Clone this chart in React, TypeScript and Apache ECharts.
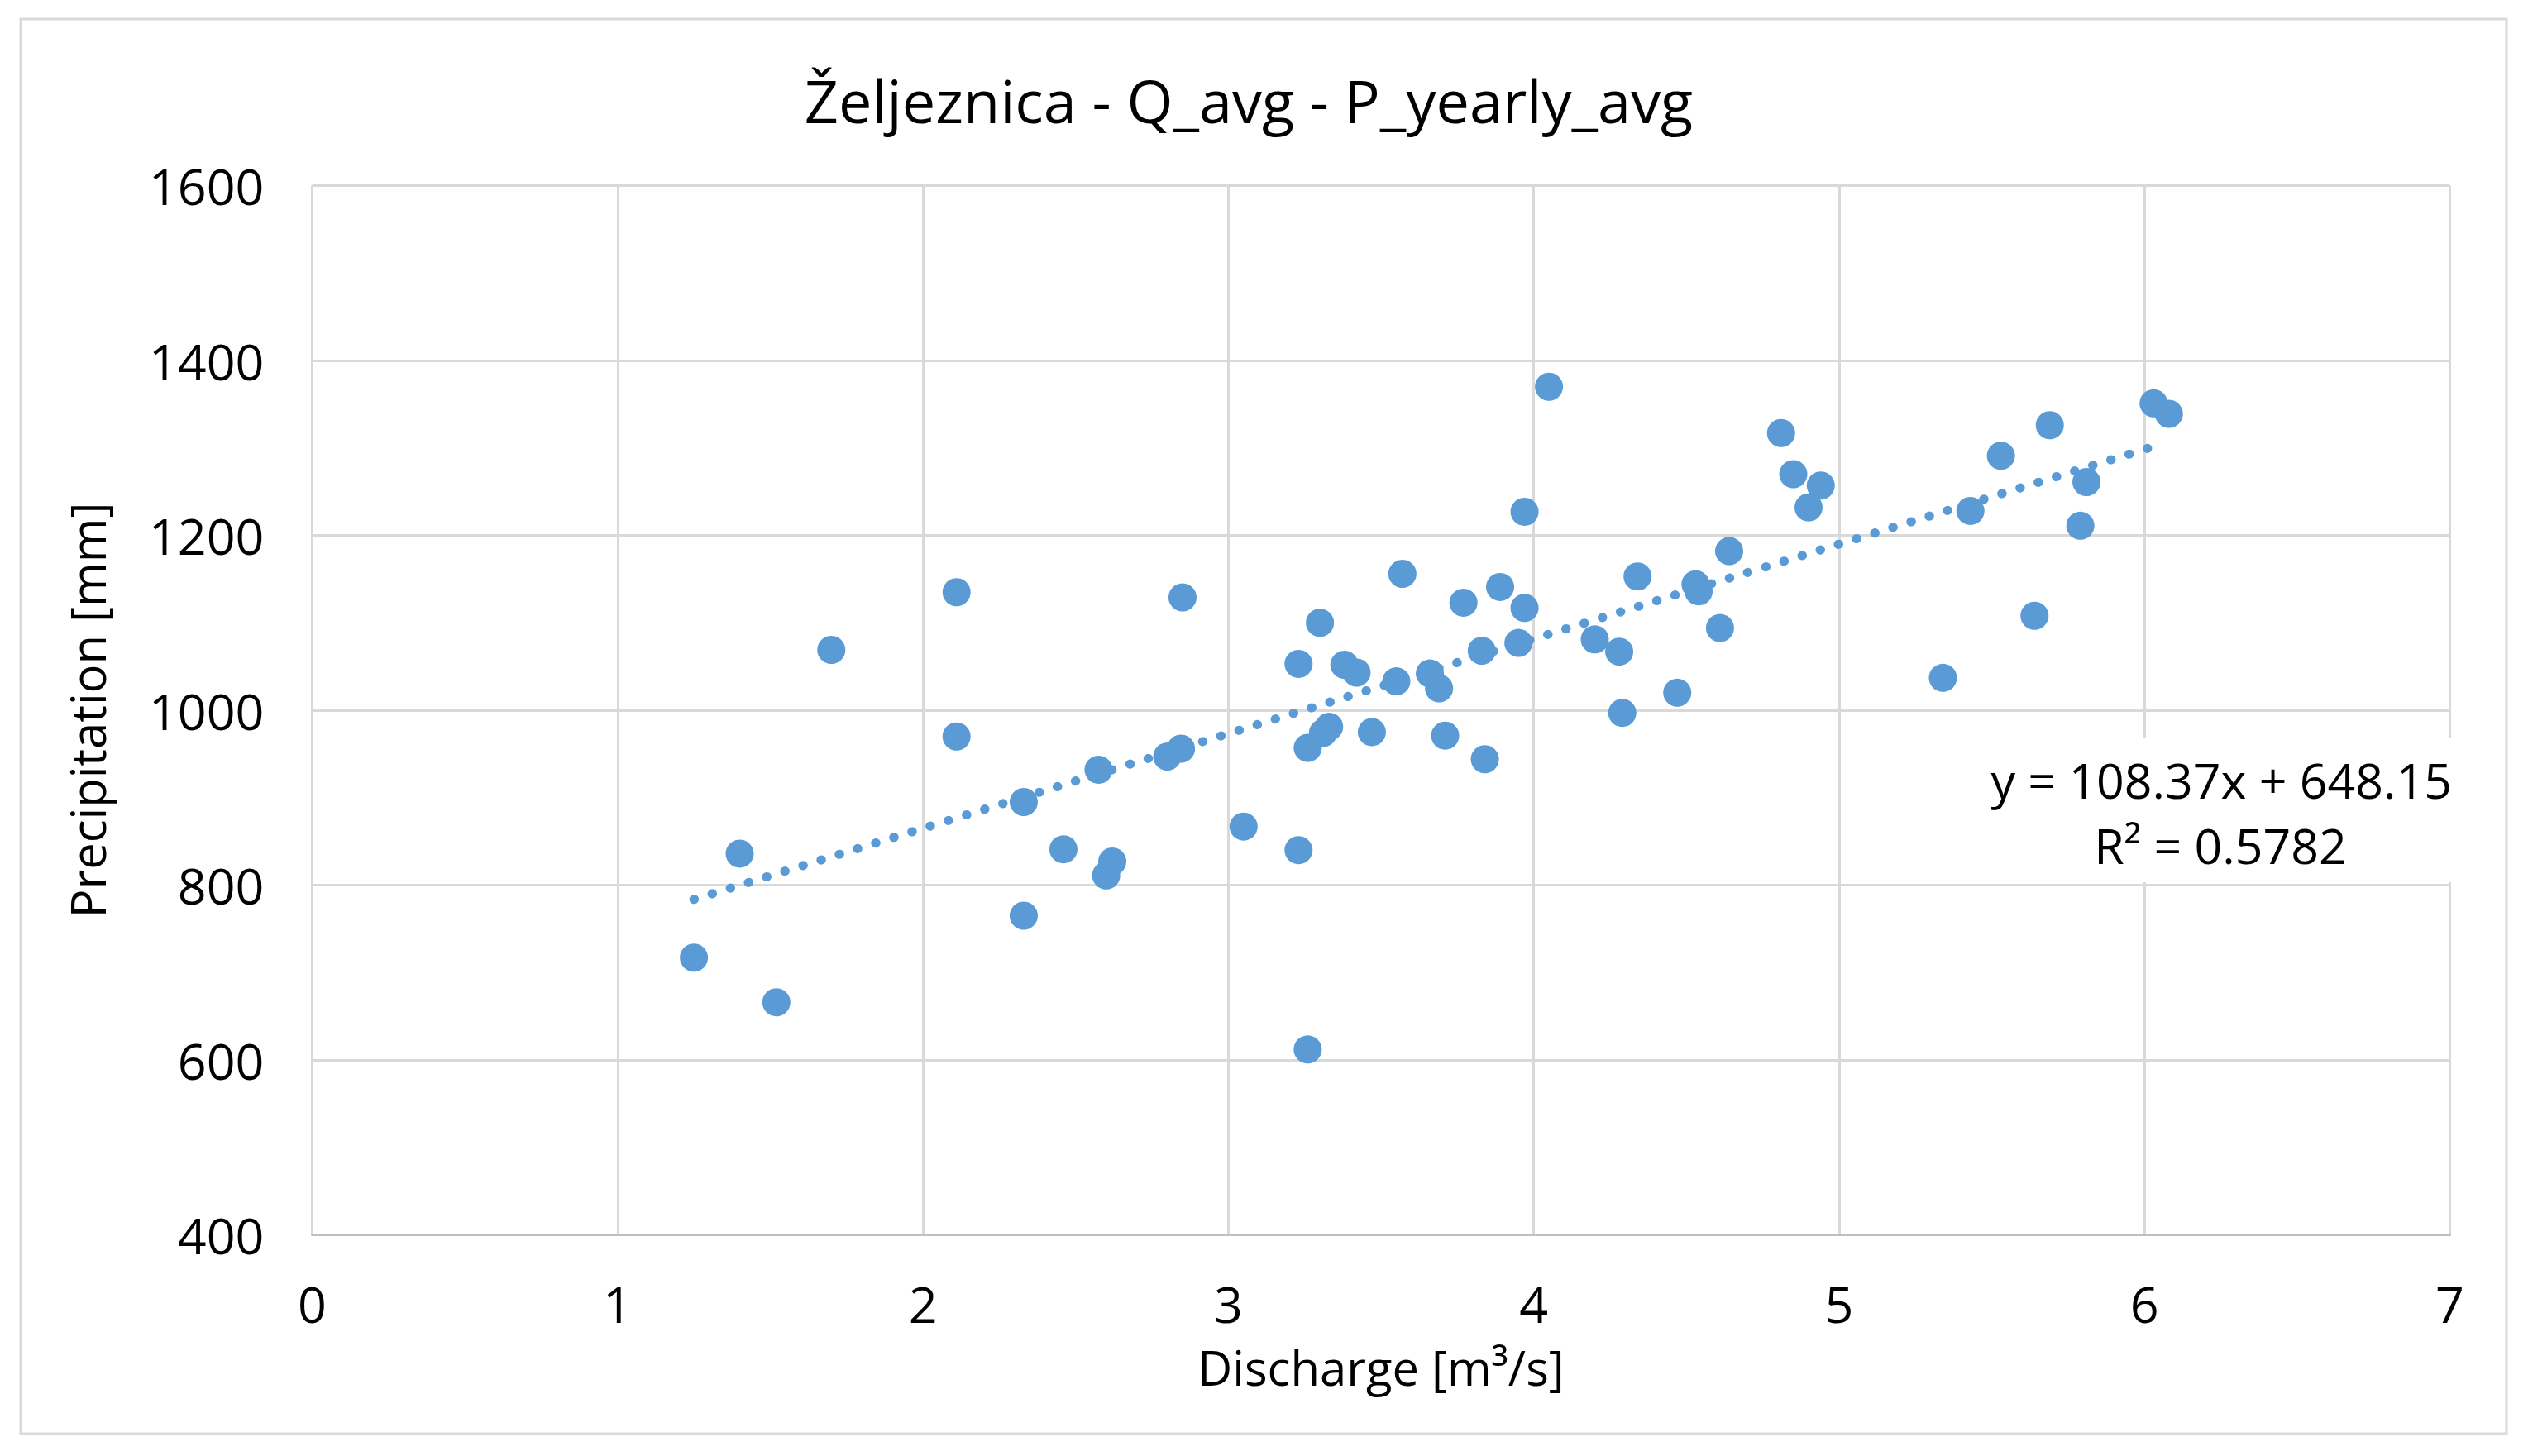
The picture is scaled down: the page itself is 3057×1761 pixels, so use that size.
import React, { useEffect, useRef } from "react";
import * as echarts from "echarts";

// Data: Discharge [m³/s] vs Precipitation [mm]
const dischargeValues: number[] = [
  1.25, 1.40, 1.52, 1.70, 2.11, 2.11, 2.33, 2.33, 2.46, 2.575,
  2.60, 2.62, 2.80, 2.845, 2.85, 3.05, 3.23, 3.23, 3.26, 3.26,
  3.30, 3.31, 3.33, 3.38, 3.42, 3.47, 3.55, 3.57, 3.66, 3.69,
  3.71, 3.77, 3.83, 3.84, 3.89, 3.95, 3.97, 3.97, 4.05, 4.20,
  4.28, 4.29, 4.34, 4.47, 4.53, 4.54, 4.61, 4.64, 4.81, 4.85,
  4.90, 4.94, 5.34, 5.43, 5.53, 5.64, 5.69, 5.79, 5.81, 6.03,
  6.08,
];
const precipitationValues: number[] = [
  717, 836, 666, 1069, 1135, 970, 895, 765, 841, 932,
  811, 827, 947, 956, 1129, 867, 1053, 840, 957, 612,
  1100, 974, 981, 1052, 1043, 975, 1033, 1156, 1042, 1025,
  971, 1123, 1068, 944, 1141, 1077, 1227, 1117, 1370, 1081,
  1067, 997, 1153, 1020, 1144, 1136, 1094, 1182, 1317, 1270,
  1232, 1257, 1037, 1228, 1291, 1108, 1326, 1211, 1261, 1351,
  1339,
];

// Linear trendline as printed on the chart
const trendSlope = 108.37;
const trendIntercept = 648.15;
const trendXRange: number[] = [1.25, 6.02];

const titleText = "Željeznica - Q_avg - P_yearly_avg";
const xAxisName = "Discharge [m³/s]";
const yAxisName = "Precipitation [mm]";
const equationLine1 = "y = 108.37x + 648.15";
const equationLine2 = "R² = 0.5782";

const xTicks = { min: 0, max: 7, interval: 1 };
const yTicks = { min: 400, max: 1600, interval: 200 };

const FONT = "'Open Sans', 'Noto Sans', sans-serif";
const BLUE = "#5B9BD5";
const GRID = "#D9D9D9";

export default function App() {
  const ref = useRef<HTMLDivElement>(null);

  useEffect(() => {
    if (!ref.current) return;
    const chart = echarts.init(ref.current, undefined, { renderer: "svg" });

    const scatterData = dischargeValues.map((x, i) => [x, precipitationValues[i]]);
    const trendData = trendXRange.map((x) => [x, trendSlope * x + trendIntercept]);

    chart.setOption({
      animation: false,
      backgroundColor: "#ffffff",
      title: {
        text: titleText,
        left: 1497,
        top: 72,
        textAlign: "center",
        textStyle: {
          fontFamily: FONT,
          fontSize: 72,
          fontWeight: "normal",
          color: "#000000",
        },
      },
      grid: {
        left: 369.5,
        top: 216.5,
        width: 2585,
        height: 1269,
        containLabel: false,
      },
      xAxis: {
        type: "value",
        min: xTicks.min,
        max: xTicks.max,
        interval: xTicks.interval,
        name: xAxisName,
        nameLocation: "middle",
        nameGap: 130,
        nameTextStyle: { fontFamily: FONT, fontSize: 58, color: "#000000", lineHeight: 60 },
        axisLine: { show: true, lineStyle: { color: "#BFBFBF", width: 3 } },
        axisTick: { show: false },
        axisLabel: {
          fontFamily: FONT,
          fontSize: 61,
          lineHeight: 62,
          color: "#000000",
          margin: 52,
          formatter: (v: number) => String(v),
        },
        splitLine: { show: true, lineStyle: { color: GRID, width: 3 } },
      },
      yAxis: {
        type: "value",
        min: yTicks.min,
        max: yTicks.max,
        interval: yTicks.interval,
        name: yAxisName,
        nameLocation: "middle",
        nameRotate: 90,
        nameGap: 243,
        nameTextStyle: { fontFamily: FONT, fontSize: 58, color: "#000000" },
        axisLine: { show: false },
        axisTick: { show: false },
        axisLabel: {
          fontFamily: FONT,
          fontSize: 61,
          color: "#000000",
          margin: 58,
          formatter: (v: number) => String(v),
        },
        splitLine: { show: true, lineStyle: { color: GRID, width: 3 } },
      },
      series: [
        {
          type: "line",
          data: trendData,
          showSymbol: false,
          symbol: "none",
          lineStyle: {
            color: BLUE,
            width: 11,
            type: [0.5, 22.5],
            cap: "round",
          },
          z: 2,
          silent: true,
        },
        {
          type: "scatter",
          data: scatterData,
          symbol: "circle",
          symbolSize: 34,
          itemStyle: { color: BLUE, opacity: 1 },
          z: 3,
        },
      ],
      graphic: [
        {
          type: "rect",
          shape: { x: 17, y: 15, width: 3006, height: 1711 },
          style: { fill: "none", stroke: GRID, lineWidth: 3 },
          silent: true,
          z: 0,
        },
        {
          type: "rect",
          shape: { x: 2381, y: 885, width: 578, height: 174 },
          style: { fill: "#ffffff" },
          silent: true,
          z: 5,
        },
        {
          type: "text",
          x: 2957,
          y: 935,
          style: {
            text: equationLine1,
            fontFamily: FONT,
            fontSize: 59,
            fill: "#000000",
            align: "right",
            verticalAlign: "middle",
          },
          z: 6,
        },
        {
          type: "text",
          x: 2677,
          y: 1014,
          style: {
            text: equationLine2,
            fontFamily: FONT,
            fontSize: 59,
            fill: "#000000",
            align: "center",
            verticalAlign: "middle",
          },
          z: 6,
        },
      ],
    });

    return () => {
      chart.dispose();
    };
  }, []);

  return <div ref={ref} style={{ width: 3041, height: 1745 }} />;
}
